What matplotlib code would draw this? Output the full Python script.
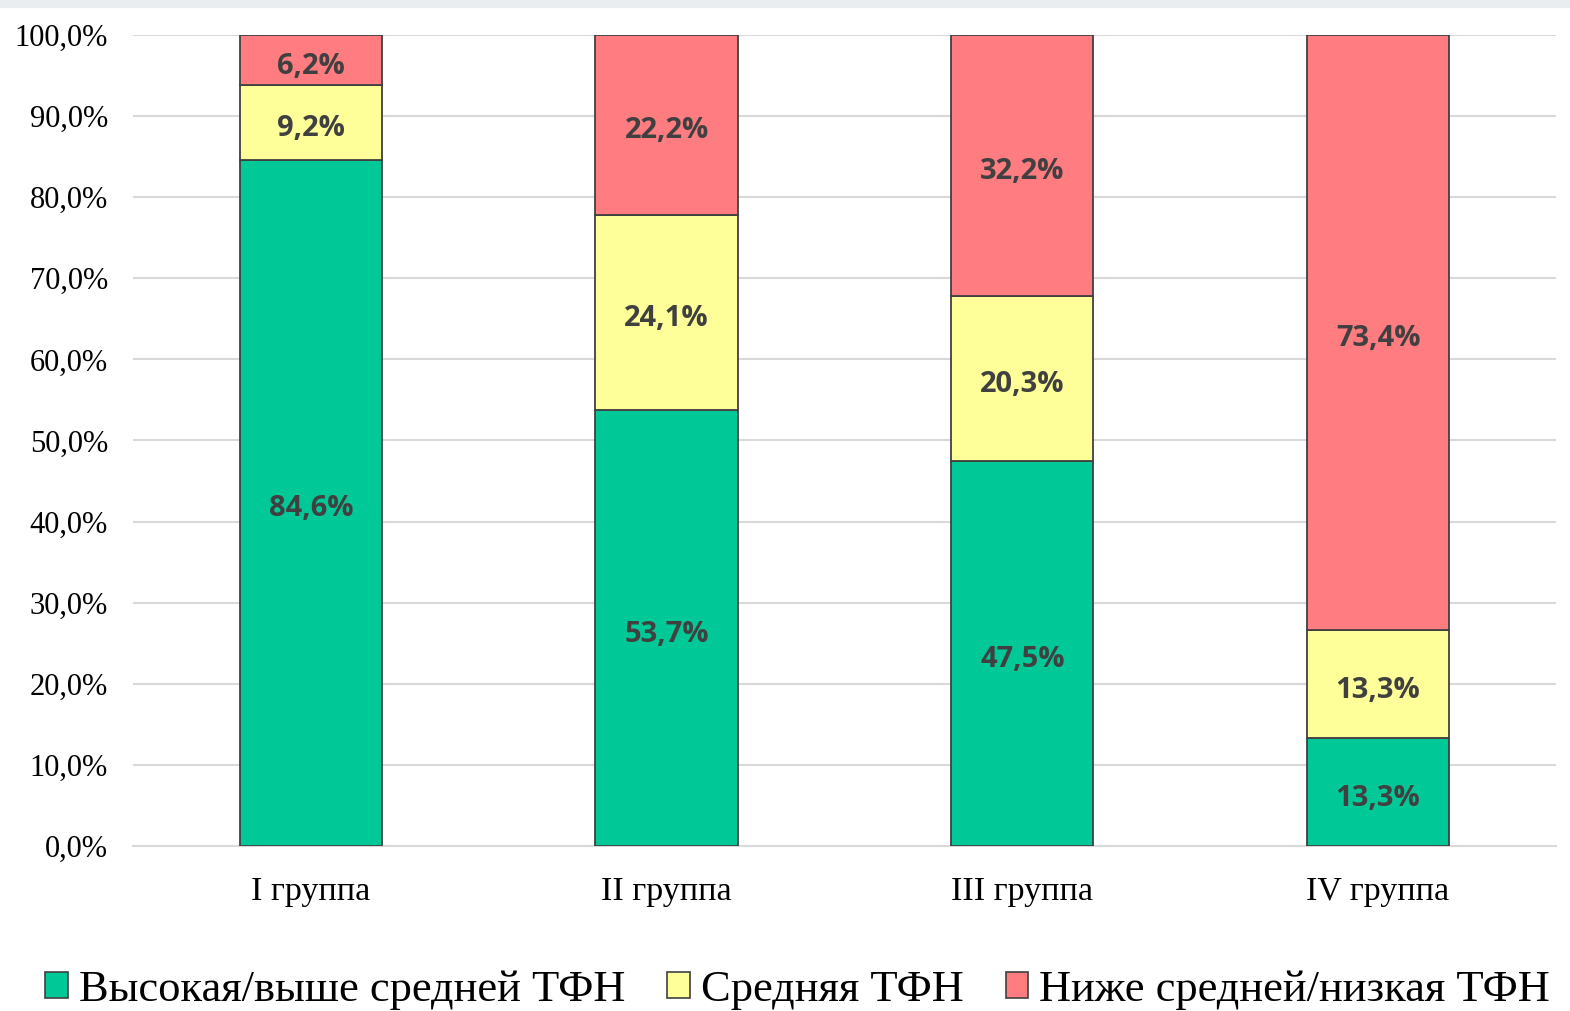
import matplotlib.pyplot as plt
from matplotlib.patches import Rectangle, Patch

groups = ['I группа', 'II группа', 'III группа', 'IV группа']
high = [84.6, 53.7, 47.5, 13.3]
mid = [9.2, 24.1, 20.3, 13.3]
low = [6.2, 22.2, 32.2, 73.4]
series_names = ['Высокая/выше средней ТФН', 'Средняя ТФН', 'Ниже средней/низкая ТФН']
colors = ['#00C896', '#FFFF99', '#FF7C80']
yticks = list(range(0, 101, 10))


def fmt(v):
    return f'{v:.1f}'.replace('.', ',') + '%'


fig = plt.figure(figsize=(15.7, 10.11), dpi=100)
fig.patches.append(Rectangle((0, 0.993), 1, 0.007, transform=fig.transFigure,
                             color='#eaedf0', zorder=0))
ax = fig.add_axes([0.0847, 0.1632, 0.9063, 0.8022])

x = range(len(groups))
bottom = [0] * len(groups)
for vals, col in zip([high, mid, low], colors):
    bars = ax.bar(x, vals, 0.4, bottom=bottom, color=col, edgecolor='#404040',
                  linewidth=1.3, zorder=3)
    for b, v, b0 in zip(bars, vals, bottom):
        ax.text(b.get_x() + b.get_width() / 2, b0 + v / 2 - 0.3, fmt(v),
                ha='center', va='center_baseline', fontsize=21, fontweight='bold',
                family='Open Sans', color='#404040', zorder=4)
    bottom = [a + c for a, c in zip(bottom, vals)]

ax.set_xlim(-0.5, 3.5)
ax.set_ylim(0, 100)
ax.set_yticks(yticks)
ax.set_yticklabels([fmt(t) for t in yticks], family='Liberation Serif', fontsize=22)
ax.set_xticks(list(x))
ax.set_xticklabels(groups, family='Liberation Serif', fontsize=24.5)
ax.tick_params(axis='y', length=0, pad=18)
ax.tick_params(axis='x', length=0, pad=22)
ax.grid(axis='y', color='#d9d9d9', linewidth=1.5, zorder=0)
for s in ['top', 'right', 'left']:
    ax.spines[s].set_visible(False)
ax.spines['bottom'].set_color('#d9d9d9')
ax.spines['bottom'].set_linewidth(1.5)

handles = [Patch(facecolor=c, edgecolor='#404040', linewidth=1.2) for c in colors]
fig.legend(handles, series_names, loc='center', bbox_to_anchor=(0.508, 0.021), ncol=3,
           frameon=False, prop={'family': 'Liberation Serif', 'size': 32},
           handlelength=0.5, handleheight=0.5, handletextpad=0.25, columnspacing=0.95)

fig.savefig('out.png', dpi=100, facecolor='white')
